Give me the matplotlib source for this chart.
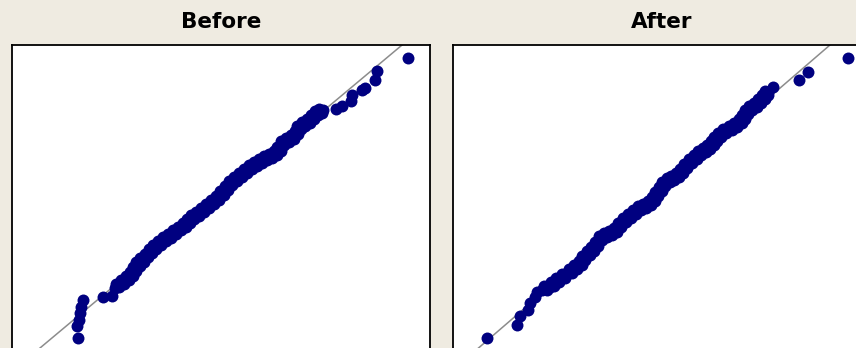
import numpy as np
import matplotlib
matplotlib.use("Agg")
import matplotlib.pyplot as plt

# Normal probability plots of the residuals, before and after the change.
# Each point: (sample value, normal score of its plotting position).
panel_titles = ["Before", "After"]

before_value = [
    -2.827, -2.833, -2.807, -2.780, -2.753, -2.727, -2.327, -2.147, -2.080, -1.980,
    -1.880, -1.780, -1.727, -1.660, -1.580, -1.500, -1.413, -1.327, -1.247, -1.147,
    -1.047, -0.947, -0.847, -0.747, -0.647, -0.567, -0.480, -0.380, -0.280, -0.180,
    -0.080, 0.020, 0.100, 0.187, 0.287, 0.387, 0.487, 0.587, 0.687, 0.787,
    0.887, 0.987, 1.087, 1.167, 1.233, 1.320, 1.420, 1.520, 1.567, 1.633,
    1.740, 1.833, 1.900, 1.987, 2.087, 2.340, 2.453, 2.633, 2.660, 2.853,
    2.920, 3.127, 3.160, 3.773,
    # crowded middle of the distribution
    -1.999, -1.961, -1.799, -1.784, -1.662, -1.651, -1.509, -1.488, -1.339, -1.318,
    -1.166, -1.128, -0.966, -0.928, -0.766, -0.728, -0.576, -0.554, -0.399, -0.361,
    -0.199, -0.161, 0.001, 0.029, 0.174, 0.206, 0.368, 0.406, 0.568, 0.606,
    0.768, 0.806, 0.968, 1.006, 1.158, 1.169, 1.308, 1.339, 1.501, 1.512,
    1.631, 1.656, 1.818, 1.836, 1.974, 2.006,
    -2.061, -1.899, -1.861, -1.722, -1.724, -1.589, -1.571, -1.426, -1.401, -1.256,
    -1.228, -1.066, -1.028, -0.866, -0.828, -0.666, -0.638, -0.492, -0.461, -0.299,
    -0.261, -0.099, -0.061, 0.091, 0.112, 0.268, 0.306, 0.468, 0.506, 0.668,
    0.706, 0.868, 0.906, 1.068, 1.096, 1.231, 1.246, 1.401, 1.439, 1.574,
    1.569, 1.718, 1.756, 1.898, 1.912, 2.068,
]
before_score = [
    -2.807, -2.553, -2.440, -2.307, -2.173, -2.040, -1.987, -1.953, -1.793, -1.707,
    -1.640, -1.573, -1.473, -1.373, -1.273, -1.193, -1.107, -1.020, -0.940, -0.860,
    -0.793, -0.713, -0.640, -0.580, -0.507, -0.420, -0.353, -0.273, -0.193, -0.113,
    -0.040, 0.047, 0.140, 0.247, 0.340, 0.420, 0.500, 0.580, 0.647, 0.713,
    0.767, 0.820, 0.873, 0.927, 1.047, 1.140, 1.193, 1.260, 1.360, 1.460,
    1.513, 1.580, 1.660, 1.727, 1.753, 1.773, 1.847, 1.940, 2.060, 2.160,
    2.207, 2.360, 2.540, 2.793,
    # crowded middle of the distribution
    -1.789, -1.634, -1.646, -1.484, -1.462, -1.284, -1.272, -1.111, -1.102, -0.941,
    -0.939, -0.788, -0.792, -0.638, -0.649, -0.504, -0.502, -0.348, -0.352, -0.194,
    -0.192, -0.038, -0.036, 0.132, 0.154, 0.332, 0.341, 0.499, 0.501, 0.652,
    0.641, 0.779, 0.754, 0.886, 0.861, 1.026, 1.054, 1.206, 1.188, 1.349,
    1.371, 1.526, 1.508, 1.659, 1.654, 1.779,
    -1.711, -1.712, -1.568, -1.562, -1.384, -1.362, -1.194, -1.189, -1.024, -1.019,
    -0.861, -0.866, -0.714, -0.716, -0.571, -0.582, -0.424, -0.426, -0.274, -0.272,
    -0.114, -0.116, 0.042, 0.054, 0.232, 0.254, 0.419, 0.421, 0.579, 0.574,
    0.719, 0.701, 0.832, 0.808, 0.939, 0.948, 1.132, 1.128, 1.266, 1.271,
    1.449, 1.448, 1.586, 1.581, 1.732, 1.701,
]

after_value = [
    -3.293, -2.707, -2.640, -2.473, -2.440, -2.340, -2.307, -2.207, -2.040, -1.940,
    -1.840, -1.707, -1.573, -1.473, -1.407, -1.320, -1.240, -1.160, -1.073, -0.987,
    -0.873, -0.787, -0.693, -0.607, -0.507, -0.407, -0.307, -0.207, -0.107, -0.007,
    0.060, 0.127, 0.193, 0.280, 0.360, 0.460, 0.547, 0.627, 0.727, 0.813,
    0.907, 1.000, 1.093, 1.173, 1.240, 1.307, 1.393, 1.493, 1.627, 1.727,
    1.813, 1.860, 1.927, 2.027, 2.107, 2.193, 2.260, 2.327, 2.427, 2.940,
    3.113, 3.913,
    # crowded middle of the distribution
    -2.093, -2.020, -1.860, -1.803, -1.610, -1.553, -1.410, -1.393, -1.250, -1.230,
    -1.087, -1.060, -0.900, -0.860, -0.710, -0.680, -0.527, -0.487, -0.327, -0.287,
    -0.127, -0.087, 0.057, 0.063, 0.190, 0.207, 0.350, 0.380, 0.533, 0.557,
    0.707, 0.740, 0.890, 0.923, 1.077, 1.103, 1.237, 1.243, 1.380, 1.413,
    1.590, 1.647, 1.800, 1.807, 1.923, 1.947, 2.097, 2.120, 2.257, 2.263,
    -2.153, -1.960, -1.920, -1.743, -1.670, -1.493, -1.470, -1.333, -1.310, -1.170,
    -1.147, -1.000, -0.960, -0.800, -0.770, -0.620, -0.587, -0.427, -0.387, -0.227,
    -0.187, -0.027, -0.003, 0.123, 0.130, 0.267, 0.290, 0.440, 0.473, 0.617,
    0.647, 0.800, 0.830, 0.983, 1.017, 1.163, 1.177, 1.303, 1.320, 1.473,
    1.530, 1.707, 1.740, 1.867, 1.863, 2.007, 2.037, 2.180, 2.197, 2.323,
]
after_score = [
    -2.807, -2.540, -2.353, -2.240, -2.107, -1.973, -1.873, -1.840, -1.773, -1.673,
    -1.607, -1.507, -1.420, -1.340, -1.240, -1.140, -1.073, -0.973, -0.860, -0.753,
    -0.727, -0.673, -0.587, -0.487, -0.407, -0.327, -0.240, -0.173, -0.127, -0.073,
    0.027, 0.127, 0.227, 0.327, 0.393, 0.427, 0.493, 0.593, 0.693, 0.793,
    0.860, 0.927, 0.993, 1.060, 1.140, 1.227, 1.313, 1.360, 1.447, 1.493,
    1.580, 1.673, 1.760, 1.827, 1.913, 1.980, 2.060, 2.127, 2.227, 2.360,
    2.527, 2.793,
    # crowded middle of the distribution
    -1.847, -1.683, -1.680, -1.517, -1.503, -1.340, -1.330, -1.150, -1.147, -0.983,
    -0.957, -0.767, -0.780, -0.660, -0.670, -0.497, -0.487, -0.327, -0.323, -0.167,
    -0.190, -0.060, -0.063, 0.117, 0.137, 0.317, 0.320, 0.450, 0.420, 0.583,
    0.603, 0.783, 0.787, 0.933, 0.920, 1.067, 1.060, 1.223, 1.230, 1.377,
    1.363, 1.510, 1.497, 1.667, 1.677, 1.833, 1.830, 1.987, 1.980, 2.133,
    -1.767, -1.763, -1.600, -1.597, -1.423, -1.420, -1.250, -1.230, -1.067, -1.063,
    -0.877, -0.847, -0.700, -0.740, -0.590, -0.577, -0.407, -0.407, -0.243, -0.247,
    -0.110, -0.140, 0.017, 0.037, 0.217, 0.237, 0.400, 0.370, 0.500, 0.503,
    0.683, 0.703, 0.867, 0.853, 1.000, 0.987, 1.140, 1.143, 1.310, 1.297,
    1.443, 1.430, 1.577, 1.587, 1.757, 1.753, 1.910, 1.907, 2.060, 2.053,
]

# Fitted normal reference lines: value = mu + sigma * score
fit_mu = [0.005, 0.010]
fit_sigma = [1.195, 1.160]

value_limits = [(-4.14, 4.22), (-3.98, 4.38)]
score_limits = (-3.06, 3.06)

BG = "#EFEBE1"
POINT = "#000080"
LINE = "#8C8C8C"

W, H = 856, 348
fig = plt.figure(figsize=(W / 100, H / 100), dpi=100, facecolor=BG)

panel_left_px = [12, 453]
panel_w_px = 418
panel_top_px = 45
panel_bottom_px = 351

series = [(before_value, before_score), (after_value, after_score)]

for i in range(2):
    left = panel_left_px[i] / W
    bottom = 1 - panel_bottom_px / H
    height = (panel_bottom_px - panel_top_px) / H
    ax = fig.add_axes([left, bottom, panel_w_px / W, height])
    ax.set_facecolor("white")
    vals, scores = series[i]

    z = np.array(score_limits)
    ax.plot(fit_mu[i] + fit_sigma[i] * z, z, color=LINE, lw=1.1, zorder=1)
    ax.plot(vals, scores, linestyle="none", marker="o", ms=8.6,
            mfc=POINT, mec=POINT, mew=0, zorder=2)

    ax.set_xlim(*value_limits[i])
    ax.set_ylim(*score_limits)
    ax.set_xticks([])
    ax.set_yticks([])
    for sp in ax.spines.values():
        sp.set_color("black")
        sp.set_linewidth(1.3)

    cx = (panel_left_px[i] + panel_w_px / 2) / W
    fig.text(cx, 1 - 27.7 / H, panel_titles[i], ha="center", va="baseline",
             fontsize=15.5, fontweight="bold", family="DejaVu Sans", color="black")

fig.savefig("out.png", dpi=100, facecolor=BG)
